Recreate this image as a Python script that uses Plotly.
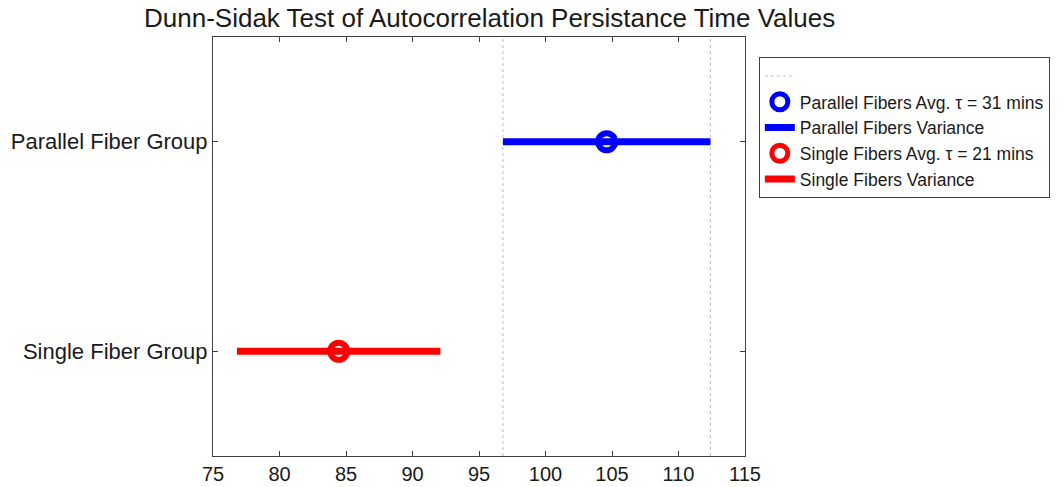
import plotly.graph_objects as go

groups = ["Single Fiber Group", "Parallel Fiber Group"]
group_pos = [1, 2]
means = [84.45, 104.6]
lows = [76.8, 96.8]
highs = [92.1, 112.4]
colors = ["red", "blue"]
avg_labels = ["Single Fibers Avg. τ = 21 mins", "Parallel Fibers Avg. τ = 31 mins"]
var_labels = ["Single Fibers Variance", "Parallel Fibers Variance"]
x_ticks = [75, 80, 85, 90, 95, 100, 105, 110, 115]
y_range = [0.5, 2.5]

FONT = "Liberation Sans, Arial, sans-serif"
TXT = "#1a1a1a"

fig = go.Figure()

# dotted reference lines at the parallel group's interval
ref = 1
fig.add_trace(go.Scatter(
    x=[lows[ref], lows[ref], None, highs[ref], highs[ref]],
    y=[y_range[0], y_range[1], None, y_range[0], y_range[1]],
    mode="lines", line=dict(color="#bdbdbd", width=1, dash="dot"),
    name=" ", showlegend=True, hoverinfo="skip", legendrank=1))

line_traces = []
marker_traces = []
rank = 2
for i in [1, 0]:
    marker_traces.append(go.Scatter(
        x=[means[i]], y=[group_pos[i]], mode="markers",
        marker=dict(symbol="circle-open", size=17, color=colors[i],
                    line=dict(width=6, color=colors[i])),
        name=avg_labels[i], legendrank=rank))
    line_traces.append(go.Scatter(
        x=[lows[i], highs[i]], y=[group_pos[i], group_pos[i]],
        mode="lines", line=dict(color=colors[i], width=7),
        name=var_labels[i], legendrank=rank + 1))
    rank += 2

for t in line_traces + marker_traces:
    fig.add_trace(t)

fig.update_layout(
    width=1064, height=487,
    margin=dict(l=213, r=319, t=37, b=31, autoexpand=False),
    paper_bgcolor="white", plot_bgcolor="white",
    font=dict(family=FONT, color=TXT),
    title=dict(text="Dunn-Sidak Test of Autocorrelation Persistance Time Values",
               x=0.52, xanchor="center", xref="paper", y=0.963, yanchor="middle",
               yref="container", font=dict(size=26, family=FONT, color=TXT)),
    showlegend=True,
    legend=dict(x=1.026, y=0.952, xanchor="left", yanchor="top",
                bordercolor="#404040", borderwidth=1, bgcolor="white",
                font=dict(size=17.5, family=FONT, color=TXT),
                traceorder="normal", itemwidth=30, tracegroupgap=0),
)
fig.update_xaxes(range=[75, 115], tickvals=x_ticks, ticks="inside", ticklen=5,
                 showline=True, linecolor="#404040", linewidth=1, mirror="ticks",
                 showgrid=False, zeroline=False, tickcolor="#404040", automargin=False,
                 tickfont=dict(size=20, family=FONT, color=TXT))
fig.update_yaxes(range=y_range, tickvals=group_pos, ticktext=groups, ticks="inside",
                 ticklen=5, showline=True, linecolor="#404040", linewidth=1,
                 mirror="ticks", showgrid=False, zeroline=False, tickcolor="#404040",
                 automargin=False, tickfont=dict(size=22, family=FONT, color=TXT))

fig.write_html("out.html")
